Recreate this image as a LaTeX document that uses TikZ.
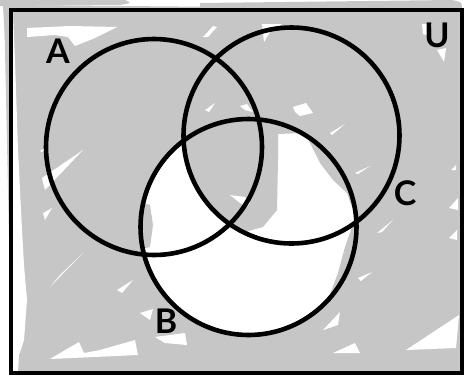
\documentclass[tikz,border=0pt]{standalone}
\usepackage{fontspec}
\setmainfont{Lato}
\usepackage{xcolor}
\definecolor{shade}{RGB}{198,198,198}
\tikzset{
  venn/.style={
    shape=circle,
    draw,
    line width=4.6pt,
    minimum size=216pt,
    inner sep=0pt
  },
  frame/.style={
    draw,
    line width=4pt,
    inner sep=0pt
  },
  lbl/.style={
    font=\fontsize{34}{34}\selectfont\bfseries,
    inner sep=0pt
  },
  streak/.style={
    fill=white,
    draw=none
  },
  smear/.style={
    fill=shade,
    draw=none
  }
}

\begin{document}
\begin{tikzpicture}[x=1pt,y=-1pt]
  \useasboundingbox (0,0) rectangle (466,376);
  % rough gray fill of the universe
  \fill[smear] (4,5) -- (9,5) -- (462,9) -- (462,373) -- (12,373) -- cycle;
  \fill[smear] (0,0) -- (125,0) .. controls (132,3) .. (120,5) -- (0,6) -- cycle;
  \fill[smear] (200,3) -- (452,0) .. controls (462,2) .. (462,9) -- (200,9) -- cycle;
  \fill[smear] (3,6) -- (10,6) -- (10,75) -- (5,40) -- cycle;
  % left margin left blank
  \fill[streak] (13,12) -- (15,60) -- (18,150) -- (22,230) -- (24,265) -- (27,300) -- (24,340) -- (19,355) -- (18,372) -- (13,372) -- cycle;
  % white strokes
  \fill[streak] (27,28) -- (70,26) -- (117,27) -- (95,38) -- (75,46) -- (68,37) -- (55,35) -- (27,37) -- cycle;
  \fill[streak] (203,37) -- (213,26) -- (217,27) -- (208,37) -- cycle;
  \fill[streak] (262,24) -- (282,24) -- (270,32) -- (264,42) -- cycle;
  \fill[streak] (422,24) -- (432,24) -- (430,36) -- (423,34) -- cycle;
  \fill[streak] (437,50) -- (446,48) -- (444,62) -- cycle;
  \fill[streak] (205,110) -- (215,103) -- (209,112) -- cycle;
  \fill[streak] (293,107) -- (306,103) -- (313,113) -- (300,116) -- (295,112) -- cycle;
  \fill[streak] (240,106) -- (247,104) -- (253,112) -- (245,110) -- cycle;
  \fill[streak] (330,133) -- (345,124) -- (332,135) -- cycle;
  \fill[streak] (355,173) -- (370,166) -- (358,174) -- cycle;
  \fill[streak] (42,178) -- (83,150) -- (45,190) -- cycle;
  \fill[streak] (40,151) -- (47,147) -- (42,152) -- cycle;
  \fill[streak] (43,213) -- (52,208) -- (45,220) -- cycle;
  \fill[streak] (50,287) -- (83,253) -- (60,275) -- cycle;
  \fill[streak] (117,290) -- (133,280) -- (122,293) -- cycle;
  \fill[streak] (50,359) -- (79,342) -- (84,353) -- (100,350) -- (135,340) -- (138,355) -- cycle;
  \fill[streak] (140,313) -- (153,309) -- (150,320) -- cycle;
  \fill[streak] (155,337) -- (185,333) -- (187,345) -- (165,343) -- cycle;
  \fill[streak] (333,353) -- (355,343) -- (360,353) -- cycle;
  \fill[streak] (406,350) -- (459,315) -- (456,348) -- cycle;
  \fill[streak] (449,208) -- (458,198) -- (458,210) -- cycle;
  \fill[streak] (449,238) -- (457,230) -- (457,240) -- cycle;
  \fill[streak] (451,170) -- (456,165) -- (456,170) -- cycle;
  \fill[streak] (377,233) -- (393,220) -- (382,232) -- cycle;
  \fill[streak] (358,278) -- (372,272) -- (361,281) -- cycle;
  \fill[streak] (323,330) -- (340,312) -- (338,325) -- cycle;
  % B without A and C
  \fill[white] (248.5,227) circle[radius=106pt];
  \begin{scope}
    \clip (248.5,227) circle[radius=106pt];
    \fill[smear] (303,130) -- (310,143) -- (320,163) -- (333,180) -- (347,193) -- (352,207) -- (360,217) -- (352,227) -- (345,247) -- (338,273) -- (329,297) -- (316,313) -- (306,323) -- (400,340) -- (400,100) -- cycle;
    \fill[smear] (120,195) -- (150,205) -- (153,225) -- (150,247) -- (120,255) -- cycle;
    \fill[smear] (250,110) -- (305,110) -- (302,133) -- (278,134) -- (278,160) -- (277,210) -- (263,227) -- (245,232) -- (230,228) -- cycle;
    \clip (154,147) circle[radius=108pt];
    \fill[smear] (291.5,135.5) circle[radius=108pt];
  \end{scope}
  \fill[streak] (230,195) -- (245,197) -- (250,203) -- (247,207) -- (240,203) -- cycle;
  % sets
  \node[frame, minimum width=451pt, minimum height=363pt] (univ) at (236.5,191.5) {};
  \node[venn] (setA) at (154,147) {};
  \node[venn] (setC) at (291.5,135.5) {};
  \node[venn] (setB) at (248.5,227) {};
  \node[lbl] (labA) at (58,51) {A};
  \node[lbl] (labB) at (166,321) {B};
  \node[lbl] (labC) at (405,193) {C};
  \node[lbl] (labU) at (437,35) {U};
\end{tikzpicture}
\end{document}
